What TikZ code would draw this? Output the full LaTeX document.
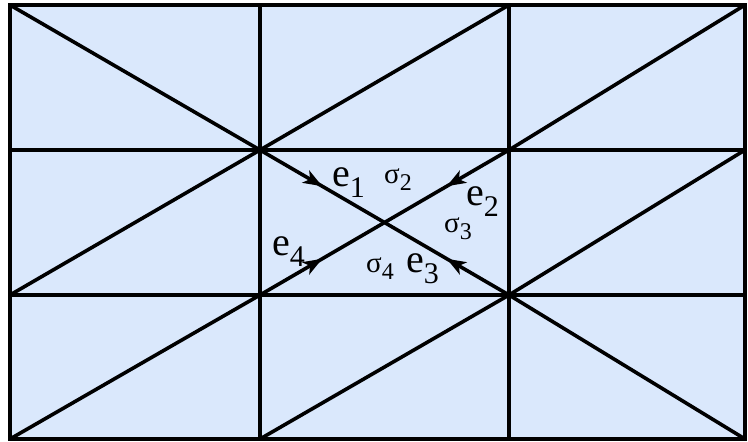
\documentclass[tikz,border=0pt]{standalone}
\usepackage{fontspec}
\setmainfont{Liberation Serif}
\usetikzlibrary{arrows.meta,decorations.markings}
\definecolor{cellblue}{HTML}{DAE8FC}
\tikzset{
    edge/.style={line width=3.6pt},
    flow/.style={postaction={decorate},
        decoration={markings, mark=at position 0.5 with {\arrow{Stealth[length=19pt,width=14pt,inset=5pt]}}}},
    elabel/.style={anchor=base west, inner sep=0pt, font=\fontsize{40}{40}\selectfont},
    slabel/.style={anchor=base west, inner sep=0pt, font=\fontsize{29}{29}\selectfont}
}
\newcommand{\esub}[2]{#1\raisebox{-11pt}{\fontsize{30}{30}\selectfont #2}}
\newcommand{\ssub}[2]{#1\raisebox{-7pt}{\fontsize{24}{24}\selectfont #2}}
\begin{document}
\begin{tikzpicture}[x=1pt, y=-1pt]
        \useasboundingbox (0,0) rectangle (748,442);
        % Grid points
        \foreach \x [count=\i from 0] in {10,260,509,745} {
            \foreach \y [count=\j from 0] in {5,150,295,439} {
                \coordinate (g\i\j) at (\x,\y);
            }
        }
        \coordinate (c) at (384.5,222.5);

        \fill[cellblue] (g00) rectangle (g33);

        % Grid lines
        \draw[edge] (g10) -- (g13);
        \draw[edge] (g20) -- (g23);
        \draw[edge] (g01) -- (g31);
        \draw[edge] (g02) -- (g32);

        % Diagonals
        \draw[edge] (g00) -- (g11);
        \draw[edge] (g11) -- (g20);
        \draw[edge] (g21) -- (g30);
        \draw[edge] (g02) -- (g11);
        \draw[edge] (g22) -- (g31);
        \draw[edge] (g03) -- (g12);
        \draw[edge] (g13) -- (g22);
        \draw[edge] (g22) -- (g33);

        % Oriented edges
        \draw[edge, flow] (g11) -- (c);
        \draw[edge, flow] (g21) -- (c);
        \draw[edge, flow] (g22) -- (c);
        \draw[edge, flow] (g12) -- (c);

        \draw[line width=4.6pt] (g00) rectangle (g33);

        % Labels
        \node[elabel] (e1) at (332,186) {\esub{e}{1}};
        \node[elabel] (e2) at (466,205) {\esub{e}{2}};
        \node[elabel] (e3) at (406,272) {\esub{e}{3}};
        \node[elabel] (e4) at (272,255) {\esub{e}{4}};
        \node[slabel] (s2) at (384,183) {\ssub{σ}{2}};
        \node[slabel] (s3) at (444,232) {\ssub{σ}{3}};
        \node[slabel] (s4) at (366,272) {\ssub{σ}{4}};
\end{tikzpicture}
\end{document}
